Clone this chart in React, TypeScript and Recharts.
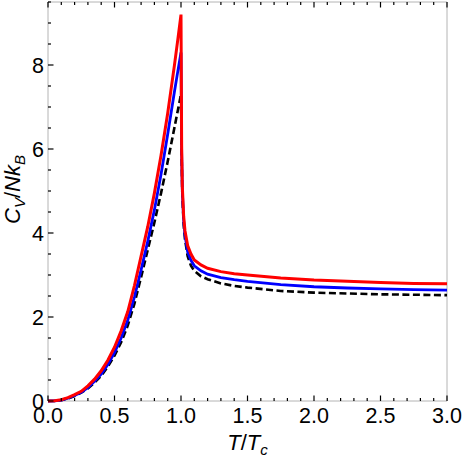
import React from "react";
import { Line, LineChart, ReferenceArea, XAxis, YAxis } from "recharts";

const tValues = [
  0, 0.05, 0.1, 0.15, 0.2, 0.25, 0.3, 0.35, 0.4, 0.45, 0.5, 0.55, 0.6, 0.65, 0.7, 0.75, 0.8, 0.85, 0.9, 0.95, 0.975, 1.0,
  1.005, 1.01, 1.02, 1.03, 1.05, 1.075, 1.1, 1.15, 1.2, 1.3, 1.4, 1.5, 1.75, 2.0, 2.25, 2.5, 2.75, 3.0,
];

const redCurve = [
  0, 0.005, 0.03, 0.08, 0.15, 0.23, 0.36, 0.52, 0.72, 0.97, 1.28, 1.67, 2.13, 2.75, 3.45, 4.15, 4.95, 5.85, 6.85, 7.98, 8.58, 9.2,
  6.0, 5.1, 4.4, 4.05, 3.7, 3.5, 3.36, 3.24, 3.16, 3.08, 3.03, 3.0, 2.93, 2.88, 2.85, 2.82, 2.8, 2.79,
];

const blueCurve = [
  0, 0.004, 0.02, 0.07, 0.13, 0.21, 0.32, 0.47, 0.64, 0.87, 1.15, 1.5, 1.93, 2.48, 3.12, 3.8, 4.55, 5.4, 6.35, 7.35, 7.83, 8.3,
  5.9, 5.0, 4.3, 3.95, 3.55, 3.35, 3.22, 3.1, 3.02, 2.94, 2.89, 2.85, 2.77, 2.72, 2.69, 2.67, 2.65, 2.64,
];

const blackCurve = [
  0, 0.004, 0.02, 0.06, 0.12, 0.2, 0.3, 0.44, 0.6, 0.82, 1.08, 1.4, 1.8, 2.32, 2.95, 3.6, 4.25, 4.95, 5.7, 6.5, 6.9, 7.3,
  5.8, 4.9, 4.2, 3.85, 3.45, 3.22, 3.1, 2.97, 2.9, 2.8, 2.74, 2.7, 2.62, 2.58, 2.56, 2.54, 2.53, 2.52,
];

// minor ticks every 0.1, labelled every 0.5
const xTicks = [
  0, 0.1, 0.2, 0.3, 0.4, 0.5, 0.6, 0.7, 0.8, 0.9, 1.0, 1.1, 1.2, 1.3, 1.4, 1.5, 1.6, 1.7, 1.8, 1.9, 2.0,
  2.1, 2.2, 2.3, 2.4, 2.5, 2.6, 2.7, 2.8, 2.9, 3.0,
];
const xLabels = [0, 0.5, 1.0, 1.5, 2.0, 2.5, 3.0];

// minor ticks every 0.5, labelled every 2
const yTicks = [0, 0.5, 1, 1.5, 2, 2.5, 3, 3.5, 4, 4.5, 5, 5.5, 6, 6.5, 7, 7.5, 8, 8.5, 9, 9.5];
const yLabels = [0, 2, 4, 6, 8];

const data = tValues.map((t, i) => ({ t, red: redCurve[i], blue: blueCurve[i], black: blackCurve[i] }));

const FONT = "'Liberation Sans', Arial, Helvetica, sans-serif";
const FRAME = "#b4b4b4";
const TICK = "#000";
const MAJOR = 5.5;
const MINOR = 3;

const isLabel = (list: number[], v: number) => list.some((l) => Math.abs(l - v) < 1e-6);

// frame ticks point inward, drawn as small paths
function tickPath(x: number, y: number, dx: number, dy: number) {
  return `M${x},${y}L${x + dx},${y + dy}`;
}

function BottomTick(props: any) {
  const x = Number(props.x);
  const y = Number(props.y);
  const major = isLabel(xLabels, props.payload.value);
  return (
    <g>
      <path d={tickPath(x, y, 0, -(major ? MAJOR : MINOR))} stroke={TICK} strokeWidth={1.2} fill="none" />
      {major && (
        <text x={x} y={y + 22} textAnchor="middle" fontSize={21.5} fontFamily={FONT} fill="#000">
          {Number(props.payload.value).toFixed(1)}
        </text>
      )}
    </g>
  );
}

function TopTick(props: any) {
  const x = Number(props.x);
  const y = Number(props.y);
  const major = isLabel(xLabels, props.payload.value);
  return <path d={tickPath(x, y, 0, major ? MAJOR : MINOR)} stroke={TICK} strokeWidth={1.2} fill="none" />;
}

function LeftTick(props: any) {
  const x = Number(props.x);
  const y = Number(props.y);
  const major = isLabel(yLabels, props.payload.value);
  return (
    <g>
      <path d={tickPath(x, y, major ? MAJOR : MINOR, 0)} stroke={TICK} strokeWidth={1.2} fill="none" />
      {major && (
        <text x={x - 4} y={y + 7.5} textAnchor="end" fontSize={21.5} fontFamily={FONT} fill="#000">
          {props.payload.value}
        </text>
      )}
    </g>
  );
}

function RightTick(props: any) {
  const x = Number(props.x);
  const y = Number(props.y);
  const major = isLabel(yLabels, props.payload.value);
  return <path d={tickPath(x, y, -(major ? MAJOR : MINOR), 0)} stroke={TICK} strokeWidth={1.2} fill="none" />;
}

function XTitle(props: any) {
  const { x, y, width } = props.viewBox;
  return (
    <text x={x + width / 2} y={y + 49} textAnchor="middle" fontSize={22} fontFamily={FONT} fill="#000">
      <tspan fontStyle="italic">T</tspan>
      <tspan>/</tspan>
      <tspan fontStyle="italic">T</tspan>
      <tspan fontStyle="italic" fontSize={15} dy={5}>c</tspan>
    </text>
  );
}

function YTitle(props: any) {
  const { y, height } = props.viewBox;
  const cx = 20;
  const cy = y + height / 2 - 12;
  return (
    <text
      x={cx}
      y={cy}
      transform={`rotate(-90 ${cx} ${cy})`}
      textAnchor="middle"
      fontSize={22}
      fontFamily={FONT}
      fill="#000"
    >
      <tspan fontStyle="italic">C</tspan>
      <tspan fontStyle="italic" fontSize={15} dy={5}>V</tspan>
      <tspan dy={-5}>/</tspan>
      <tspan fontStyle="italic">Nk</tspan>
      <tspan fontStyle="italic" fontSize={15} dy={5}>B</tspan>
    </text>
  );
}

export default function App() {
  return (
    <div style={{ position: "absolute", left: 0, top: 0, background: "#fff" }}>
      <LineChart width={463} height={462} data={data} margin={{ top: 1, right: 15, bottom: 0, left: 0 }}>
        <ReferenceArea
          xAxisId="bottom"
          yAxisId="left"
          x1={0}
          x2={3}
          y1={0}
          y2={9.5}
          fill="none"
          stroke={FRAME}
          strokeWidth={1}
          ifOverflow="visible"
        />
        <XAxis
          xAxisId="bottom"
          dataKey="t"
          type="number"
          domain={[0, 3]}
          ticks={xTicks}
          interval={0}
          height={61}
          tickSize={0}
          tickMargin={0}
          tickLine={false}
          axisLine={false}
          tick={(p: any) => <BottomTick {...p} />}
          label={{ content: <XTitle /> }}
        />
        <XAxis
          xAxisId="top"
          orientation="top"
          dataKey="t"
          type="number"
          domain={[0, 3]}
          ticks={xTicks}
          interval={0}
          height={1}
          tickSize={0}
          tickMargin={0}
          tickLine={false}
          axisLine={false}
          tick={(p: any) => <TopTick {...p} />}
        />
        <YAxis
          yAxisId="left"
          type="number"
          domain={[0, 9.5]}
          ticks={yTicks}
          interval={0}
          width={48}
          tickSize={0}
          tickMargin={0}
          tickLine={false}
          axisLine={false}
          tick={(p: any) => <LeftTick {...p} />}
          label={{ content: <YTitle /> }}
        />
        <YAxis
          yAxisId="right"
          orientation="right"
          type="number"
          domain={[0, 9.5]}
          ticks={yTicks}
          interval={0}
          width={1}
          tickSize={0}
          tickMargin={0}
          tickLine={false}
          axisLine={false}
          tick={(p: any) => <RightTick {...p} />}
        />
        <Line
          xAxisId="bottom"
          yAxisId="left"
          dataKey="black"
          type="linear"
          stroke="#000"
          strokeWidth={2.6}
          strokeDasharray="7 3.5"
          dot={false}
          isAnimationActive={false}
        />
        <Line
          xAxisId="bottom"
          yAxisId="left"
          dataKey="blue"
          type="linear"
          stroke="#0000ff"
          strokeWidth={2.8}
          dot={false}
          isAnimationActive={false}
        />
        <Line
          xAxisId="bottom"
          yAxisId="left"
          dataKey="red"
          type="linear"
          stroke="#ff0000"
          strokeWidth={3}
          dot={false}
          isAnimationActive={false}
        />
      </LineChart>
    </div>
  );
}
